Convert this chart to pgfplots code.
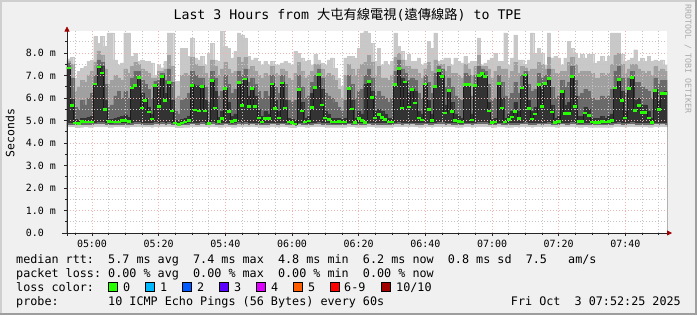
\documentclass[border=0pt]{standalone}
\usepackage{fontspec}
\setmainfont{DejaVu Sans Mono}
\newfontfamily\cjk{Noto Sans CJK TC}
\usepackage{pgfplots}
\pgfplotsset{compat=1.18}
\usepackage{pgfplotstable}
\usetikzlibrary{arrows.meta}
\definecolor{bgc}{HTML}{F0F0F0}
\definecolor{shA}{HTML}{CFCFCF}
\definecolor{shB}{HTML}{9E9E9E}
\definecolor{cL}{HTML}{C8C8C8}
\definecolor{cM}{HTML}{A0A0A0}
\definecolor{cN}{HTML}{6A6A6A}
\definecolor{cD}{HTML}{333333}
\definecolor{mgrid}{HTML}{EDB4B4}
\definecolor{mingrid}{HTML}{C4C4C4}
\definecolor{arrowred}{HTML}{A00000}
\definecolor{wm}{HTML}{ABABAB}
\definecolor{l0}{HTML}{26FF00}
\definecolor{l1}{HTML}{00B8FF}
\definecolor{l2}{HTML}{0059FF}
\definecolor{l3}{HTML}{5E00FF}
\definecolor{l4}{HTML}{DD00FF}
\definecolor{l5}{HTML}{FF5E00}
\definecolor{l6}{HTML}{FF0000}
\definecolor{l10}{HTML}{A10000}
\pgfplotstableread{
i lo mb d1 d2 n2 m2 hi med
0 4.70 4.80 4.90 7.38 7.55 7.65 7.75 7.33
1 4.70 4.80 4.88 5.95 6.90 7.50 7.80 5.66
2 4.66 4.78 4.85 5.05 5.60 6.30 6.89 4.89
3 4.66 4.78 4.84 5.00 5.50 6.50 7.19 4.86
4 4.68 4.80 4.88 5.10 5.90 6.80 7.33 4.96
5 4.70 4.80 4.88 5.10 5.70 6.70 7.41 4.93
6 4.68 4.80 4.88 5.15 6.00 7.00 7.63 4.93
7 4.68 4.80 4.88 5.20 6.20 7.20 7.70 4.93
8 4.72 4.82 4.90 6.65 7.00 7.60 8.74 6.62
9 4.72 4.82 4.92 7.42 7.70 8.10 8.44 7.38
10 4.72 4.82 4.92 7.40 7.60 7.90 8.74 7.11
11 4.70 4.80 4.88 5.90 6.60 7.30 8.30 5.48
12 4.68 4.78 4.86 5.05 5.60 6.60 8.89 4.96
13 4.68 4.78 4.86 5.05 5.70 6.80 8.89 4.93
14 4.70 4.80 4.88 5.10 6.10 7.00 7.70 4.93
15 4.70 4.80 4.88 5.15 6.30 6.90 7.48 4.93
16 4.70 4.80 4.88 5.20 6.00 6.80 7.56 5.00
17 4.68 4.78 4.88 5.25 6.30 7.30 8.89 5.00
18 4.68 4.78 4.86 5.15 6.00 7.10 8.89 4.96
19 4.70 4.80 4.90 6.48 6.90 7.40 7.85 6.44
20 4.70 4.82 4.92 6.60 7.20 7.60 8.00 6.56
21 4.72 4.82 4.92 6.95 7.20 7.50 7.63 6.92
22 4.70 4.80 4.88 6.20 6.80 7.30 7.70 5.56
23 4.70 4.80 4.88 6.00 6.60 7.20 7.63 5.90
24 4.70 4.80 4.88 5.60 6.40 7.10 7.63 5.38
25 4.68 4.80 4.88 5.30 6.00 6.90 7.56 5.07
26 4.72 4.82 4.92 6.60 6.75 6.90 7.00 6.56
27 4.70 4.80 4.88 6.40 6.80 7.20 7.48 5.62
28 4.72 4.82 4.92 7.00 7.10 7.20 7.35 6.96
29 4.70 4.80 4.88 6.20 6.80 7.30 7.63 5.90
30 4.72 4.82 4.92 6.75 7.30 7.90 8.89 6.70
31 4.70 4.80 4.88 5.90 6.70 7.40 8.89 5.43
32 4.66 4.78 4.85 5.00 5.40 6.00 6.74 4.89
33 4.64 4.76 4.80 4.95 5.30 6.10 6.74 4.81
34 4.66 4.78 4.85 5.05 5.90 7.00 8.22 4.89
35 4.68 4.78 4.86 5.10 6.00 7.10 8.22 4.93
36 4.68 4.80 4.88 5.20 6.20 7.00 7.85 4.99
37 4.72 4.82 4.90 6.60 7.20 7.80 8.67 6.55
38 4.70 4.80 4.90 6.55 7.00 7.50 7.78 5.47
39 4.70 4.80 4.90 6.55 6.90 7.40 7.70 5.43
40 4.72 4.82 4.92 6.56 6.90 7.40 7.85 6.52
41 4.70 4.80 4.88 5.90 6.50 7.10 7.48 5.42
42 4.66 4.78 4.84 5.00 5.80 6.90 8.00 4.86
43 4.72 4.82 4.92 6.80 7.20 7.70 8.44 6.77
44 4.70 4.80 4.88 6.30 6.90 7.40 7.70 5.56
45 4.68 4.80 4.86 5.15 6.10 7.00 7.63 4.96
46 4.68 4.80 4.88 5.40 6.30 7.30 8.96 5.08
47 4.72 4.82 4.90 6.45 7.00 7.60 8.30 6.41
48 4.70 4.80 4.88 5.80 6.60 7.30 8.22 5.41
49 4.68 4.80 4.86 5.20 6.20 7.10 7.78 4.96
50 4.68 4.80 4.88 5.30 6.40 7.20 8.07 4.99
51 4.72 4.82 4.92 6.75 7.20 7.80 8.89 6.70
52 4.70 4.80 4.90 6.60 7.00 7.60 8.81 5.67
53 4.72 4.82 4.92 6.88 7.30 7.80 8.67 6.84
54 4.70 4.80 4.88 6.10 6.70 7.30 7.85 5.62
55 4.72 4.82 4.90 6.45 6.90 7.40 7.70 6.41
56 4.70 4.80 4.88 6.10 6.60 7.20 7.78 5.63
57 4.68 4.80 4.88 5.50 6.30 7.00 7.63 5.11
58 4.68 4.80 4.86 5.20 6.00 6.90 7.48 4.93
59 4.68 4.80 4.88 5.40 6.30 7.10 7.63 5.08
60 4.68 4.80 4.88 5.30 6.10 7.00 7.48 5.08
61 4.72 4.82 4.90 6.66 7.00 7.40 7.63 6.62
62 4.70 4.80 4.88 5.90 6.50 7.10 7.48 5.53
63 4.68 4.80 4.88 5.40 6.20 7.00 7.48 5.11
64 4.72 4.82 4.90 6.70 7.00 7.30 7.56 6.66
65 4.70 4.80 4.88 5.90 6.60 7.20 7.63 5.56
66 4.68 4.80 4.86 5.10 5.90 6.90 7.56 4.93
67 4.66 4.78 4.85 5.05 5.80 6.80 7.48 4.90
68 4.64 4.76 4.82 5.00 5.90 7.10 8.07 4.84
69 4.72 4.82 4.90 6.40 7.00 7.60 8.00 6.37
70 4.70 4.80 4.88 5.80 6.50 7.20 7.78 5.43
71 4.68 4.80 4.86 5.10 6.00 6.90 7.63 4.93
72 4.68 4.80 4.86 5.20 6.10 7.00 7.70 4.97
73 4.70 4.80 4.88 6.20 6.70 7.20 7.48 5.59
74 4.72 4.82 4.90 6.50 7.00 7.50 7.93 6.47
75 4.72 4.82 4.92 7.08 7.30 7.50 7.70 7.05
76 4.70 4.80 4.88 6.40 6.90 7.30 7.56 5.69
77 4.68 4.80 4.88 5.40 6.20 7.00 7.48 5.11
78 4.68 4.80 4.88 5.30 6.10 7.10 7.70 5.05
79 4.68 4.80 4.86 5.10 6.00 7.00 7.78 4.93
80 4.68 4.80 4.86 5.10 5.80 6.80 7.33 4.93
81 4.68 4.80 4.86 5.10 5.60 6.40 6.89 4.96
82 4.68 4.80 4.86 5.05 5.40 6.00 6.52 4.93
83 4.68 4.80 4.86 5.10 5.90 7.00 7.78 4.93
84 4.72 4.82 4.90 6.46 7.00 7.50 7.85 6.43
85 4.70 4.80 4.88 5.90 6.60 7.30 7.85 5.51
86 4.68 4.80 4.86 5.10 6.00 7.00 7.78 4.92
87 4.68 4.80 4.88 5.40 6.30 7.30 8.22 5.08
88 4.68 4.80 4.88 5.30 6.40 7.50 8.89 5.00
89 4.68 4.80 4.86 6.60 7.00 7.60 8.96 4.92
90 4.72 4.82 4.90 6.78 7.30 7.90 8.89 6.73
91 4.70 4.80 4.88 6.30 6.90 7.60 8.44 6.03
92 4.68 4.80 4.88 5.40 6.10 7.00 7.63 5.11
93 4.68 4.80 4.88 5.50 6.30 7.40 8.22 5.26
94 4.68 4.80 4.88 5.40 6.10 6.90 7.48 5.14
95 4.68 4.80 4.88 5.30 6.00 6.90 7.63 5.04
96 4.68 4.80 4.86 5.10 5.80 6.80 7.48 4.93
97 4.68 4.80 4.86 5.10 6.00 7.00 7.63 4.93
98 4.72 4.82 4.90 6.62 7.20 7.80 8.89 6.59
99 4.72 4.82 4.92 7.36 7.70 8.00 8.30 7.32
100 4.70 4.80 4.88 6.90 7.30 7.70 8.07 5.56
101 4.72 4.82 4.90 6.75 7.10 7.40 7.70 6.71
102 4.70 4.80 4.88 6.20 6.80 7.40 7.93 5.60
103 4.72 4.82 4.90 6.40 6.90 7.30 7.63 6.37
104 4.70 4.80 4.88 6.30 6.80 7.30 7.63 5.78
105 4.68 4.80 4.88 5.40 6.20 7.10 7.78 5.11
106 4.68 4.80 4.88 5.30 6.00 6.90 7.48 5.02
107 4.72 4.82 4.90 6.65 7.00 7.30 7.56 6.62
108 4.70 4.80 4.88 5.90 6.70 7.60 8.52 5.48
109 4.68 4.80 4.88 5.30 6.20 7.20 8.22 5.00
110 4.72 4.82 4.90 6.56 7.10 7.70 8.89 6.52
111 4.72 4.82 4.92 7.25 7.40 7.50 7.63 7.21
112 4.72 4.82 4.92 7.00 7.30 7.50 7.70 6.96
113 4.70 4.80 4.88 5.70 6.50 7.20 7.78 5.33
114 4.72 4.82 4.90 6.36 6.90 7.40 7.78 6.33
115 4.70 4.80 4.88 5.80 6.50 7.10 7.48 5.41
116 4.68 4.80 4.88 5.30 6.10 7.10 7.78 5.00
117 4.68 4.80 4.86 5.20 6.00 7.00 7.63 4.96
118 4.68 4.80 4.86 5.10 5.90 6.90 7.56 4.93
119 4.72 4.82 4.90 6.62 7.10 7.50 7.85 6.59
120 4.72 4.82 4.90 6.62 7.00 7.30 7.56 6.59
121 4.68 4.80 4.88 5.30 6.10 7.00 7.63 5.02
122 4.72 4.82 4.90 6.60 7.00 7.40 7.63 6.56
123 4.72 4.82 4.92 7.02 7.40 7.90 8.67 6.99
124 4.72 4.82 4.92 7.12 7.30 7.40 7.48 7.09
125 4.72 4.82 4.92 6.98 7.20 7.40 7.56 6.95
126 4.70 4.80 4.88 5.80 6.60 7.30 7.70 5.43
127 4.66 4.78 4.85 5.05 5.90 6.90 7.78 4.90
128 4.68 4.80 4.86 5.10 6.00 7.20 8.00 4.93
129 4.72 4.82 4.90 6.68 7.00 7.40 7.63 6.65
130 4.70 4.80 4.88 6.00 6.70 7.30 7.63 5.56
131 4.68 4.80 4.86 5.10 6.10 7.30 8.89 4.93
132 4.68 4.80 4.88 5.30 6.00 6.90 7.48 5.04
133 4.68 4.80 4.88 5.40 6.20 7.20 7.78 5.16
134 4.70 4.80 4.88 5.80 6.70 7.60 8.81 5.41
135 4.68 4.80 4.88 5.40 6.20 7.10 7.70 5.08
136 4.72 4.82 4.90 6.48 7.00 7.40 7.70 6.44
137 4.72 4.82 4.92 7.05 7.20 7.35 7.48 7.02
138 4.70 4.80 4.88 5.90 6.60 7.20 7.70 5.53
139 4.68 4.80 4.88 5.40 6.30 7.30 8.89 5.07
140 4.70 4.80 4.88 5.60 6.40 7.30 8.00 5.29
141 4.72 4.82 4.90 6.62 7.10 7.60 8.22 6.59
142 4.70 4.80 4.88 6.40 6.90 7.50 8.00 5.63
143 4.72 4.82 4.90 6.68 7.00 7.30 7.48 6.65
144 4.72 4.82 4.92 6.90 7.30 7.80 8.89 6.86
145 4.70 4.80 4.88 5.70 6.50 7.30 7.78 5.38
146 4.68 4.80 4.86 5.10 6.00 7.10 7.85 4.92
147 4.68 4.80 4.86 5.20 6.10 7.10 7.78 4.96
148 4.72 4.82 4.90 6.34 6.80 7.20 7.48 6.30
149 4.70 4.80 4.88 5.70 6.50 7.20 7.78 5.32
150 4.70 4.80 4.88 5.80 6.70 7.60 8.52 5.32
151 4.72 4.82 4.92 7.00 7.40 7.80 8.22 6.96
152 4.70 4.80 4.88 6.10 6.80 7.50 8.00 5.63
153 4.68 4.80 4.86 5.20 6.10 7.10 7.78 4.96
154 4.68 4.80 4.86 5.20 6.20 7.20 7.93 4.96
155 4.70 4.80 4.88 5.60 6.40 7.20 7.78 5.33
156 4.68 4.80 4.88 5.50 6.30 7.20 7.93 5.23
157 4.68 4.80 4.86 5.10 6.00 7.10 7.93 4.93
158 4.68 4.80 4.86 5.10 5.90 6.90 7.56 4.92
159 4.68 4.80 4.86 5.10 5.90 6.90 7.63 4.92
160 4.68 4.80 4.86 5.20 6.10 7.10 7.85 4.96
161 4.68 4.80 4.86 5.10 6.00 7.00 7.63 4.94
162 4.68 4.80 4.86 5.20 6.10 7.10 7.85 4.96
163 4.68 4.80 4.88 5.30 6.40 7.50 8.89 5.00
164 4.72 4.82 4.90 6.48 7.20 7.90 8.89 6.44
165 4.72 4.82 4.92 6.86 7.40 8.00 8.89 6.83
166 4.70 4.80 4.88 6.30 6.90 7.50 7.93 5.90
167 4.68 4.80 4.88 5.40 6.20 7.10 7.63 5.11
168 4.72 4.82 4.90 6.45 6.90 7.30 7.70 6.41
169 4.72 4.82 4.92 6.95 7.20 7.50 7.78 6.92
170 4.70 4.80 4.88 5.90 6.70 7.50 8.15 5.45
171 4.70 4.80 4.88 6.00 6.70 7.30 7.63 5.66
172 4.70 4.80 4.88 5.70 6.50 7.20 7.78 5.36
173 4.70 4.80 4.88 5.70 6.40 7.10 7.63 5.36
174 4.68 4.80 4.88 5.40 6.30 7.20 7.85 5.11
175 4.68 4.80 4.86 5.10 6.00 7.00 7.63 4.92
176 4.72 4.82 4.90 6.38 6.90 7.40 7.70 6.34
177 4.70 4.80 4.88 5.90 6.60 7.20 7.63 5.48
178 4.72 4.82 4.90 6.25 6.80 7.30 7.70 6.21
179 4.70 4.80 4.88 6.30 6.80 7.20 7.48 6.21
}\data
\newcommand\legfont{\fontsize{11.8}{14}\selectfont}
\begin{document}
\begin{tikzpicture}[x=1bp,y=1bp]
\fill[bgc] (-67,-82) rectangle (630,233);
\fill[shA] (-67,231) rectangle (630,233);
\fill[shA] (-67,-82) rectangle (-65,233);
\fill[shB] (-67,-82) rectangle (630,-80);
\fill[shB] (628,-82) rectangle (630,233);
\begin{axis}[
  at={(0,0)}, anchor=south west,
  scale only axis, width=600bp, height=202.5bp,
  xmin=-0.5, xmax=179.5, ymin=0, ymax=9,
  axis background/.style={fill=white},
  axis on top,
  axis lines=left,
  axis line style={line width=0.8bp, draw=black!85},
  x axis line style={-{Triangle[length=5bp,width=5bp,color=arrowred]}, shorten <=-5bp, shorten >=-5bp},
  y axis line style={-{Triangle[length=5bp,width=5bp,color=arrowred]}, shorten <=-3bp, shorten >=-4bp},
  xtick={7,27,...,167},
  xticklabels={\mbox{05:00},\mbox{05:20},\mbox{05:40},\mbox{06:00},\mbox{06:20},\mbox{06:40},\mbox{07:00},\mbox{07:20},\mbox{07:40}},
  minor xtick={2,7,...,177},
  ytick={0,1,...,8},
  yticklabels={\mbox{0.0\phantom{~m}},\mbox{1.0~m},\mbox{2.0~m},\mbox{3.0~m},\mbox{4.0~m},\mbox{5.0~m},\mbox{6.0~m},\mbox{7.0~m},\mbox{8.0~m}},
  minor ytick={0.5,1.5,...,8.5},
  grid=both,
  major grid style={draw=mgrid, dash pattern=on 1bp off 2bp, line width=0.7bp},
  minor grid style={draw=mingrid, dash pattern=on 1bp off 2bp, line width=0.7bp},
  tick align=outside,
  major tick length=3bp, minor tick length=1.5bp,
  tick style={draw=black!85, line width=0.6bp},
  tick label style={font=\fontsize{10}{12}\selectfont},
  xticklabel style={anchor=north, inner sep=0pt, yshift=-4bp},
  yticklabel style={anchor=east, inner sep=0pt, xshift=-8bp},
  band/.style={ybar, bar width=1, bar shift=0pt, draw=#1, fill=#1, line width=0.25bp},
]
\addplot[band=cL] table[x=i, y=hi] {\data};
\addplot[band=cM] table[x=i, y=m2] {\data};
\addplot[band=cN] table[x=i, y=n2] {\data};
\addplot[band=cD] table[x=i, y=d2] {\data};
\addplot[band=cN] table[x=i, y=d1] {\data};
\addplot[band=cL] table[x=i, y=mb] {\data};
\addplot[band=white] table[x=i, y=lo] {\data};
\addplot[const plot mark mid, draw=black!90, line width=0.7bp, mark=none] table[x=i, y=med] {\data};
\addplot[only marks, mark=-, mark size=2bp, mark options={draw=l0, line width=2.6bp}] table[x=i, y=med] {\data};
\end{axis}
\node[font=\fontsize{13.3}{16}\selectfont] at (280.5,218) {Last 3 Hours from {\cjk 大屯有線電視}({\cjk 遠傳線路}) to TPE};
\node[rotate=90, font=\fontsize{11.5}{14}\selectfont] at (-57,100) {Seconds};
\node[rotate=-90, anchor=west, inner sep=0pt, text=wm, font=\fontsize{8.3}{10}\selectfont] at (621,229) {RRDTOOL~/~TOBI~OETIKER};
\node[anchor=base west, inner sep=0pt, font=\legfont] at (-51,-30.3) {median~rtt:~~5.7~ms~avg~~7.4~ms~max~~4.8~ms~min~~6.2~ms~now~~0.8~ms~sd~~7.5~~~am/s};
\node[anchor=base west, inner sep=0pt, font=\legfont] at (-51,-44.3) {packet~loss:~0.00~\%~avg~~0.00~\%~max~~0.00~\%~min~~0.00~\%~now};
\node[anchor=base west, inner sep=0pt, font=\legfont] at (-51,-58.3) {loss~color:};
\foreach \bx/\col/\lx/\lab in {41/l0/56/0, 78/l1/93/1, 115/l2/130/2, 152.5/l3/167/3, 189/l4/204/4, 226/l5/241/5, 263/l6/277/6-9, 314/l10/329/10{/}10}{
  \filldraw[fill=\col, draw=black, line width=0.8bp] (\bx,-58.5) rectangle ++(9,9);
  \node[anchor=base west, inner sep=0pt, font=\legfont] at (\lx,-58.3) {\lab};
}
\node[anchor=base west, inner sep=0pt, font=\legfont] at (-51,-72.3) {probe:~~~~~~~10~ICMP~Echo~Pings~(56~Bytes)~every~60s};
\node[anchor=base east, inner sep=0pt, font=\legfont] at (614,-72.3) {Fri~Oct~~3~07:52:25~2025};
\pgfresetboundingbox
\useasboundingbox (-67,-82) rectangle (630,233);
\end{tikzpicture}
\end{document}
